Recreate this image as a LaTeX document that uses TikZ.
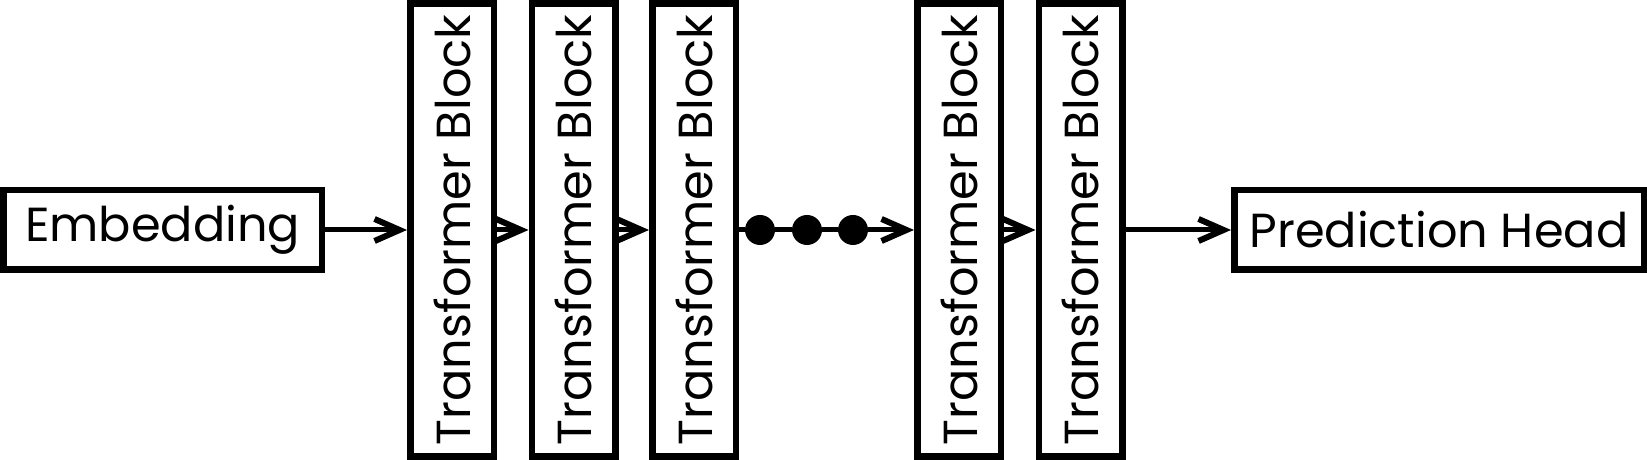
\documentclass[tikz,border=0pt]{standalone}
\usepackage{fontspec}
\setmainfont{Poppins}
\usetikzlibrary{arrows.meta}

\begin{document}
\begin{tikzpicture}[
    box/.style={draw,line width=0.065cm,inner sep=0pt,font=\fontsize{13.6}{16}\selectfont},
    block/.style={box,rotate=90,minimum width=4.53cm,minimum height=0.835cm},
    dot/.style={circle,fill,inner sep=0pt,outer sep=0pt,minimum size=0.3cm},
    arr/.style={line width=0.05cm,-{Straight Barb[length=2.5mm,width=2.2mm,line width=0.6mm]}}
    ]
    \useasboundingbox (0,0) rectangle (16.47,4.6);

    \node[box,minimum width=3.185cm,minimum height=0.795cm] (emb) at (1.625,2.3) {Embedding};

    \node[block] (tb1) at (4.52,2.3) {Transformer Block};
    \node[block] (tb2) at (5.735,2.3) {Transformer Block};
    \node[block] (tb3) at (6.94,2.3) {Transformer Block};
    \node[block] (tb4) at (9.59,2.3) {Transformer Block};
    \node[block] (tb5) at (10.805,2.3) {Transformer Block};

    \node[box,minimum width=4.095cm,minimum height=0.795cm] (head) at (14.39,2.3) {Prediction Head};

    \node[dot] (d1) at (7.60,2.3) {};
    \node[dot] (d2) at (8.07,2.3) {};
    \node[dot] (d3) at (8.53,2.3) {};

    \draw[arr] (emb) -- (tb1);
    \draw[arr] (tb1) -- (tb2);
    \draw[arr] (tb2) -- (tb3);
    \draw[arr] (tb3) -- (d1) -- (d2) -- (d3) -- (tb4);
    \draw[arr] (tb4) -- (tb5);
    \draw[arr] (tb5) -- (head);

\end{tikzpicture}
\end{document}
